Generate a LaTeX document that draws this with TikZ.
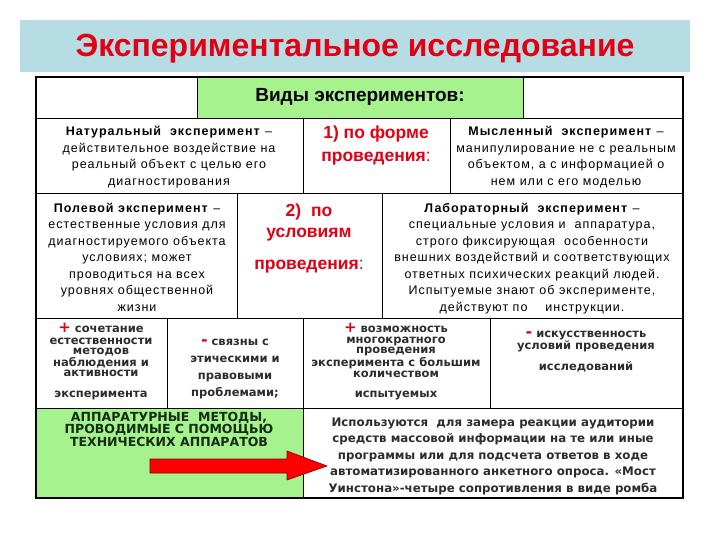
\documentclass[tikz,border=0pt]{standalone}
\usepackage{fontspec}
\setmainfont{Liberation Sans}
\newfontfamily\bodyf[LetterSpace=8]{Liberation Sans}
\newfontfamily\dvb{DejaVu Sans}
\definecolor{banner}{RGB}{183,221,228}
\definecolor{hgreen}{RGB}{166,242,140}
\definecolor{tred}{RGB}{225,0,20}
\definecolor{dgreen}{RGB}{20,45,20}
\definecolor{dtext}{RGB}{45,45,45}
\newcommand{\rplus}{{\color{tred}\fontsize{15}{10}\selectfont +}}
\newcommand{\rminus}{{\color{tred}\fontsize{16}{10}\selectfont -}}
\tikzset{
  bodytxt/.style={font=\bodyf\fontsize{12.5}{16.5}\selectfont, align=center, inner sep=0pt, anchor=base, text=black},
  redtxt/.style={font=\bfseries\fontsize{17.5}{23}\selectfont, align=center, inner sep=0pt, anchor=base, text=tred},
  smalltxt/.style={font=\dvb\bfseries\fontsize{11.5}{10}\selectfont, align=center, inner sep=0pt, anchor=base, text=dtext},
  gridline/.style={draw=black, line width=0.9pt},
}
\begin{document}
\begin{tikzpicture}[x=1pt,y=-1pt]
\useasboundingbox (0,0) rectangle (720,540);
\fill[white] (0,0) rectangle (720,540);
% banner
\node[fill=banner, inner sep=0pt, minimum width=670pt, minimum height=52pt, anchor=north west] (banner) at (20,20) {};
\node[font=\bfseries\fontsize{32}{32}\selectfont, text=tred, anchor=base, inner sep=0pt] (title) at (355,57) {Экспериментальное исследование};
% fills
\fill[hgreen] (197,77) rectangle (523,118);
\fill[hgreen] (36,408) rectangle (303,498);
% grid
\draw[gridline] (36,118) -- (683,118);
\draw[gridline] (36,193) -- (683,193);
\draw[gridline] (36,318) -- (683,318);
\draw[gridline] (36,408) -- (683,408);
\draw[gridline] (197,77) -- (197,118);
\draw[gridline] (523,77) -- (523,118);
\draw[gridline] (303,118) -- (303,193);
\draw[gridline] (450,118) -- (450,193);
\draw[gridline] (237,193) -- (237,318);
\draw[gridline] (382,193) -- (382,318);
\draw[gridline] (167,318) -- (167,408);
\draw[gridline] (303,318) -- (303,408);
\draw[gridline] (490,318) -- (490,408);
\draw[gridline] (303,408) -- (303,498);
\draw[draw=black, line width=2pt] (36,77) rectangle (683,498);
% header
\node[font=\bfseries\fontsize{19}{19}\selectfont, anchor=base, inner sep=0pt] (vidy) at (360,102) {Виды экспериментов:};
% row 2 (anchor base = last line baseline)
\node[bodytxt] (nat) at (169,185.5) {\textbf{Натуральный\ \ эксперимент} –\\действительное воздействие на\\реальный объект с целью его\\диагностирования};
\node[redtxt] (forma) at (376,162) {1) по форме\\проведения\textmd{:}};
\node[bodytxt] (mysl) at (566,185.5) {\textbf{Мысленный\ \ эксперимент} –\\манипулирование не с реальным\\объектом, а с информацией о\\нем или с его моделью};
% row 3
\node[bodytxt] (pol) at (137,311) {\textbf{Полевой эксперимент} –\\естественные условия для\\диагностируемого объекта\\условиях; может\\проводиться на всех\\уровнях общественной\\жизни};
\node[redtxt, font=\bfseries\fontsize{17.5}{21}\selectfont] (usl1) at (309,237) {2)\ \ по\\условиям};
\node[redtxt] (usl2) at (309,269) {проведения\textmd{:}};
\node[bodytxt] (lab) at (532,311) {\textbf{Лабораторный\ \ эксперимент} –\\специальные условия и\ \ аппаратура,\\строго фиксирующая\ \ особенности\\внешних воздействий и соответствующих\\ответных психических реакций людей.\\Испытуемые знают об эксперименте,\\действуют по\ \ \ \ инструкции.};
% row 4
\node[smalltxt] (plus1) at (101,397) {\rplus\ сочетание\\[1.5pt]естественности\\методов\\наблюдения и\\активности\\[11pt]эксперимента};
\node[smalltxt, font=\dvb\bfseries\fontsize{11.5}{16.7}\selectfont] (minus1) at (235,396) {\rminus\ связны с\\этическими и\\правовыми\\проблемами;};
\node[smalltxt, font=\dvb\bfseries\fontsize{11.5}{10.7}\selectfont] (plus2) at (396,397) {\rplus\ возможность\\многократного\\проведения\\эксперимента с большим\\количеством\\[9.3pt]испытуемых};
\node[smalltxt, font=\dvb\bfseries\fontsize{11.5}{11}\selectfont] (minus2) at (586,370) {\rminus\ искусственность\\условий проведения\\[8pt]исследований};
% row 5
\node[font=\dvb\bfseries\fontsize{12.5}{11}\selectfont, align=center, inner sep=0pt, anchor=base, text=dgreen] (appar) at (169,446) {АППАРАТУРНЫЕ\ \ МЕТОДЫ,\\ПРОВОДИМЫЕ С ПОМОЩЬЮ\\ТЕХНИЧЕСКИХ АППАРАТОВ};
\node[font=\dvb\bfseries\fontsize{11.8}{16.5}\selectfont, align=center, inner sep=0pt, anchor=base, text=dtext] (use) at (493,492) {Используются\ \ для замера реакции аудитории\\средств массовой информации на те или иные\\программы или для подсчета ответов в ходе\\автоматизированного анкетного опроса. «Мост\\Уинстона»-четыре сопротивления в виде ромба};
% arrow
\fill[red, draw=red!50!black, line width=0.6pt] (150,459) -- (287,459) -- (287,451) -- (327,466) -- (287,480) -- (287,473) -- (150,473) -- cycle;
\end{tikzpicture}
\end{document}
